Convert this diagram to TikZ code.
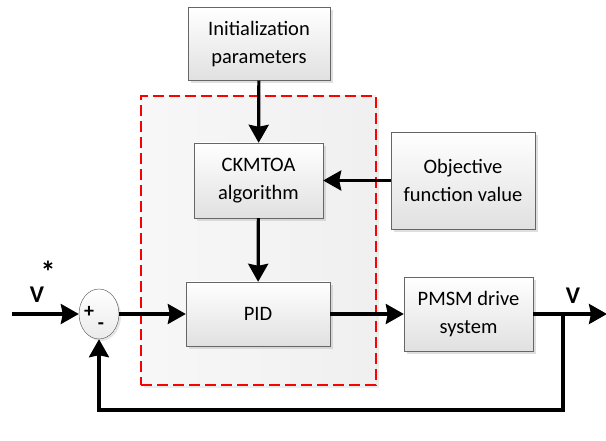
\documentclass[tikz,border=0pt]{standalone}
\usepackage{fontspec}
\setmainfont{Carlito}
\usetikzlibrary{arrows.meta, shadows, shapes.geometric}

\tikzset{
	block/.style={draw=black!60, thin, top color=white, bottom color=black!12, align=center,
		drop shadow={shadow xshift=3pt, shadow yshift=-3pt, fill=black!25}},
	arr/.style={line width=3.2pt, -{Stealth[length=18pt, width=20pt, inset=2pt]}},
	lbl/.style={font=\fontsize{24}{26}\selectfont\bfseries}
}

\begin{document}
\begin{tikzpicture}[x=1pt, y=-1pt, font=\fontsize{20.5}{27.5}\selectfont]
			\useasboundingbox (0,0) rectangle (606,441);
			\node[draw=red, line width=1.8pt, dash pattern=on 11pt off 5pt, left color=black!3, right color=black!6,
				minimum width=235, minimum height=289,
				drop shadow={shadow xshift=3pt, shadow yshift=-3pt, fill=black!15}] (ctrl) at (258.5,240.5) {};
			\node[block, minimum width=142, minimum height=73] (init) at (259,44) {Initialization\\parameters};
			\node[block, minimum width=129, minimum height=75] (algo) at (258.5,180.5) {CKMTOA\\algorithm};
			\node[block, minimum width=144, minimum height=97] (obj) at (463,180.5) {Objective\\function value};
			\node[block, minimum width=144, minimum height=64] (pid) at (258,314) {PID};
			\node[block, minimum width=129, minimum height=74] (pmsm) at (468.5,314) {PMSM drive\\system};
			\node[ellipse, draw=black!70, thin, top color=white, bottom color=black!8,
				minimum width=40, minimum height=50,
				drop shadow={shadow xshift=2pt, shadow yshift=-2pt, fill=black!20}] (sum) at (99,314) {};
			\node[font=\fontsize{20}{20}\selectfont\bfseries] at (89,312) {+};
			\node[font=\fontsize{20}{20}\selectfont\bfseries] at (101,326) {-};
			\coordinate (in) at (12,314);
			\coordinate (out) at (607,314);
			\coordinate (br) at (563,314);
			\coordinate (fb) at (563,410);
			\node[lbl] (vref) at (37,295) {V};
			\node[font=\fontsize{30}{30}\selectfont\bfseries] (star) at (48,272) {*};
			\node[lbl] (vout) at (573,296) {V};
			\draw[arr] (init) -- (algo);
			\draw[arr] (obj) -- (algo);
			\draw[arr] (algo) -- (pid);
			\draw[arr] (in) -- (sum);
			\draw[arr] (sum) -- (pid);
			\draw[arr] (pid) -- (pmsm);
			\draw[arr] (pmsm) -- (out);
			\draw[arr] (br) -- (fb) -| (sum.south);
		\end{tikzpicture}
\end{document}
